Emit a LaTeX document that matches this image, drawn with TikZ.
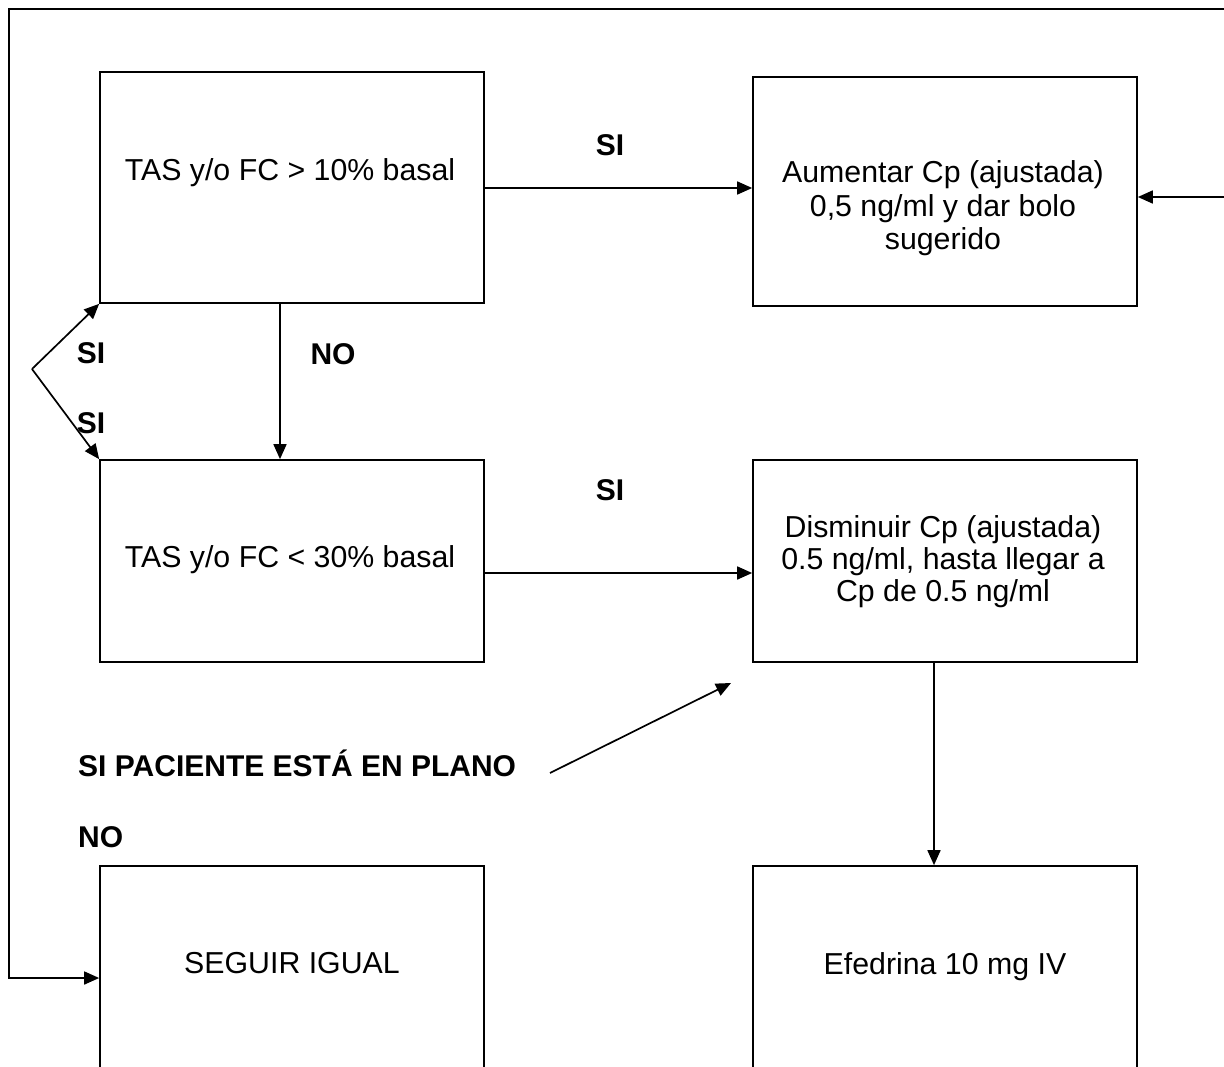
\documentclass[tikz,border=0pt]{standalone}
\usepackage{fontspec}
\setmainfont{Liberation Sans}
\usetikzlibrary{arrows.meta}
\tikzset{
  box/.style={draw, line width=1.7pt, rectangle, inner sep=0pt},
  txt/.style={anchor=base, inner sep=0pt, font=\fontsize{30.3}{33}\selectfont},
  lbl/.style={anchor=base, inner sep=0pt, font=\fontsize{30}{33}\selectfont\bfseries},
  arr/.style={line width=1.7pt, -{Triangle[length=15pt,width=13pt]}}
}
\begin{document}
\begin{tikzpicture}[x=1pt,y=-1pt]
\useasboundingbox (0,0) rectangle (1224,1066);
% boxes
\node[box, minimum width=384pt, minimum height=231pt] (tas1) at (292,187.5) {};
\node[box, minimum width=384pt, minimum height=229pt] (aum) at (945,191.5) {};
\node[box, minimum width=384pt, minimum height=202pt] (tas2) at (292,561) {};
\node[box, minimum width=384pt, minimum height=202pt] (dis) at (945,561) {};
\node[box, minimum width=384pt, minimum height=240pt] (seg) at (292,986) {};
\node[box, minimum width=384pt, minimum height=240pt] (efe) at (945,986) {};
% box texts
\node[txt] (t1) at (290,180) {TAS y/o FC > 10\% basal};
\node[txt] (a1) at (943,182) {Aumentar Cp (ajustada)};
\node[txt] (a2) at (943,216) {0,5 ng/ml y dar bolo};
\node[txt] (a3) at (943,249) {sugerido};
\node[txt] (t2) at (290,567) {TAS y/o FC < 30\% basal};
\node[txt] (d1) at (943,537) {Disminuir Cp (ajustada)};
\node[txt] (d2) at (943,569) {0.5 ng/ml, hasta llegar a};
\node[txt] (d3) at (943,601) {Cp de 0.5 ng/ml};
\node[txt] (s1) at (292,973) {SEGUIR IGUAL};
\node[txt] (e1) at (945,974) {Efedrina 10 mg IV};
% labels
\node[lbl] (si1) at (610,155) {SI};
\node[lbl] (si2) at (610,500) {SI};
\node[lbl] (no1) at (333,364) {NO};
\node[lbl] (si3) at (91,363) {SI};
\node[lbl] (si4) at (91,433) {SI};
\node[lbl, anchor=base west] (plano) at (78,776) {SI PACIENTE ESTÁ EN PLANO};
\node[lbl, anchor=base west] (no2) at (78,847) {NO};
% coordinates
\coordinate (fork) at (32,369);
\coordinate (pstart) at (550,773);
\coordinate (pend) at (731,683);
\coordinate (tr) at (1226,9);
\coordinate (tl) at (9,9);
\coordinate (bl) at (9,978);
\coordinate (rin) at (1226,197);
% connectors
\draw[arr] (tas1.east |- 0,188) -- (aum.west |- 0,188);
\draw[arr] (tas2.east |- 0,573) -- (dis.west |- 0,573);
\draw[arr] (tas1.south -| 280,0) -- (tas2.north -| 280,0);
\draw[arr] (dis.south -| 934,0) -- (efe.north -| 934,0);
\draw[arr] (fork) -- (tas1.south west);
\draw[arr] (fork) -- (tas2.north west);
\draw[arr] (pstart) -- (pend);
\draw[arr] (rin) -- (rin -| aum.east);
\draw[arr] (tr) -- (tl) -- (bl) -- (bl -| seg.west);
\end{tikzpicture}
\end{document}
